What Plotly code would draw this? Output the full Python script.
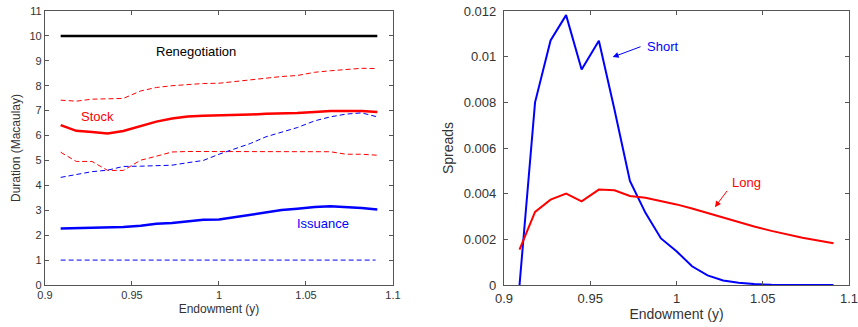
import plotly.graph_objects as go
from plotly.subplots import make_subplots

endowment = [0.909, 0.918, 0.927, 0.936, 0.945, 0.955, 0.964, 0.973, 0.982, 0.991, 1.0,
             1.009, 1.018, 1.027, 1.036, 1.045, 1.055, 1.064, 1.073, 1.082, 1.091]

renegotiation = [10.0] * 21
stock = [6.42, 6.19, 6.14, 6.08, 6.18, 6.38, 6.56, 6.68, 6.76, 6.79, 6.80,
         6.83, 6.84, 6.87, 6.88, 6.91, 6.95, 6.99, 6.99, 6.99, 6.95]
stock_upper = [7.42, 7.38, 7.46, 7.49, 7.49, 7.79, 7.93, 8.00, 8.05, 8.09, 8.10,
               8.17, 8.22, 8.30, 8.37, 8.41, 8.54, 8.60, 8.65, 8.70, 8.69]
stock_lower = [5.33, 4.96, 4.96, 4.60, 4.60, 5.01, 5.17, 5.34, 5.36, 5.36, 5.36,
               5.36, 5.36, 5.36, 5.36, 5.36, 5.36, 5.35, 5.25, 5.25, 5.21]
issuance = [2.27, 2.29, 2.31, 2.30, 2.33, 2.38, 2.46, 2.49, 2.55, 2.62, 2.63,
            2.73, 2.83, 2.93, 3.01, 3.06, 3.13, 3.16, 3.14, 3.09, 3.03]
issuance_upper = [4.32, 4.45, 4.55, 4.61, 4.76, 4.77, 4.79, 4.81, 4.91, 5.00, 5.25,
                  5.45, 5.68, 5.95, 6.14, 6.32, 6.59, 6.75, 6.86, 6.91, 6.75]
issuance_lower = [1.0] * 21

spread_short = [0.0, 0.0080, 0.01071, 0.01182, 0.00944, 0.0107, 0.0077, 0.00456, 0.00316,
                0.00204, 0.00148, 0.00082, 0.00042, 0.0002, 0.0001, 0.00004, 0.00001,
                0.0, 0.0, 0.0, 0.0]
spread_long = [0.00155, 0.0032, 0.00374, 0.0040, 0.00366, 0.00418, 0.00415, 0.0039, 0.00382,
               0.00368, 0.00353, 0.00335, 0.00315, 0.00294, 0.00275, 0.00256, 0.00237,
               0.00221, 0.00207, 0.00195, 0.00183]

x_ticks = [0.9, 0.95, 1.0, 1.05, 1.1]
x_ticklabels = ["0.9", "0.95", "1", "1.05", "1.1"]

BLUE = "#0000ff"
RED = "#ff0000"
FONT = "Liberation Sans"
TXT = "#333"

fig = make_subplots(rows=1, cols=2)

def add(x, y, color, width, dash, col):
    fig.add_trace(go.Scatter(x=x, y=y, mode="lines",
                             line=dict(color=color, width=width, dash=dash),
                             showlegend=False, hoverinfo="skip"), row=1, col=col)

add(endowment, renegotiation, "black", 2.5, "solid", 1)
add(endowment, stock_upper, RED, 1, "5px,3px", 1)
add(endowment, stock_lower, RED, 1, "5px,3px", 1)
add(endowment, stock, RED, 2.5, "solid", 1)
add(endowment, issuance_upper, BLUE, 1, "5px,3px", 1)
add(endowment[:-1] + [1.09], issuance_lower, BLUE, 1, "5px,3px", 1)
add(endowment, issuance, BLUE, 2.5, "solid", 1)

add(endowment, spread_short, BLUE, 2, "solid", 2)
add(endowment, spread_long, RED, 2, "solid", 2)

axis_common = dict(showgrid=False, zeroline=False, showline=True, linecolor="#555",
                   linewidth=1.3, mirror="ticks", ticks="inside", ticklen=4,
                   tickcolor="#555", automargin=False)

fig.update_xaxes(range=[0.9, 1.1], tickvals=x_ticks, ticktext=x_ticklabels,
                 ticklabeloverflow="allow", **axis_common)
fig.update_xaxes(domain=[0, 0.4328], row=1, col=1,
                 tickfont=dict(size=11, family=FONT, color=TXT),
                 title=dict(text="Endowment (y)", font=dict(size=12, family=FONT, color=TXT), standoff=4))
fig.update_xaxes(domain=[0.5709, 1.0], row=1, col=2,
                 tickfont=dict(size=13, family=FONT, color=TXT), ticklabelstandoff=1,
                 title=dict(text="Endowment (y)", font=dict(size=14, family=FONT, color=TXT), standoff=2))
fig.update_yaxes(range=[0, 11], dtick=1, row=1, col=1,
                 tickfont=dict(size=11, family=FONT, color=TXT),
                 title=dict(text="Duration (Macaulay)", font=dict(size=12, family=FONT, color=TXT), standoff=6),
                 **axis_common)
fig.update_yaxes(range=[0, 0.012], dtick=0.002, row=1, col=2,
                 tickfont=dict(size=13, family=FONT, color=TXT), ticklabelstandoff=4,
                 title=dict(text="Spreads", font=dict(size=14, family=FONT, color=TXT), standoff=6),
                 **axis_common)

fig.add_annotation(x=0.987, y=9.36, xref="x", yref="y", text="Renegotiation", showarrow=False,
                   font=dict(size=13, family=FONT, color="black"))
fig.add_annotation(x=0.930, y=6.75, xref="x", yref="y", text="Stock", showarrow=False,
                   font=dict(size=13, family=FONT, color=RED))
fig.add_annotation(x=1.060, y=2.47, xref="x", yref="y", text="Issuance", showarrow=False,
                   font=dict(size=13, family=FONT, color=BLUE))

fig.add_annotation(x=0.9918, y=0.01046, xref="x2", yref="y2", text="Short", showarrow=False,
                   font=dict(size=13, family=FONT, color=BLUE))
fig.add_annotation(x=0.963, y=0.00998, ax=0.980, ay=0.01046, xref="x2", yref="y2",
                   axref="x2", ayref="y2", text="", showarrow=True, arrowhead=2,
                   arrowsize=1.2, arrowwidth=1, arrowcolor=BLUE)
fig.add_annotation(x=1.0407, y=0.00451, xref="x2", yref="y2", text="Long", showarrow=False,
                   font=dict(size=13, family=FONT, color=RED))
fig.add_annotation(x=1.0223, y=0.00341, ax=1.030, ay=0.00419, xref="x2", yref="y2",
                   axref="x2", ayref="y2", text="", showarrow=True, arrowhead=2,
                   arrowsize=1.2, arrowwidth=1, arrowcolor=RED)

fig.update_layout(width=858, height=327, margin=dict(l=45, r=9, t=11, b=42),
                  paper_bgcolor="white", plot_bgcolor="white",
                  font=dict(family=FONT, color=TXT))

fig.write_html("out.html")
